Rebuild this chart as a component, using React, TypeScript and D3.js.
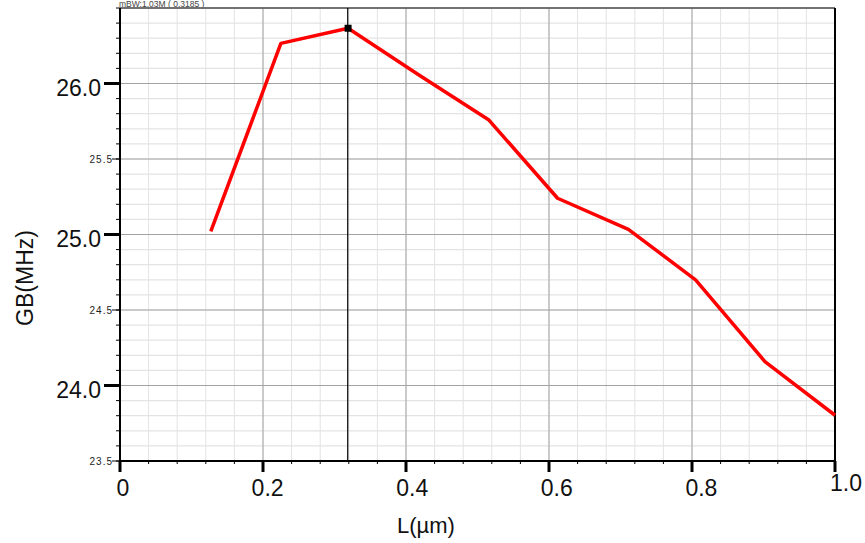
import React, { useRef, useEffect } from "react";
import * as d3 from "d3";

// L sweep (µm) and the gain-bandwidth read at each point
const lengths = [0.127, 0.225, 0.319, 0.417, 0.516, 0.612, 0.711, 0.805, 0.902, 1.0];
const gbValues = [25.02, 26.266, 26.366, 26.06, 25.758, 25.24, 25.034, 24.70, 24.158, 23.803];

const xMajorTicks = [0, 0.2, 0.4, 0.6, 0.8, 1.0];
const yBigTicks = [24.0, 25.0, 26.0];
const ySmallTicks = [23.5, 24.5, 25.5];
const cursorX = 0.3185;
const cursorIndex = 2;
const headerText = "mBW:1.03M ( 0.3185 )";

const W = 865;
const H = 543;
const margin = { top: 8, right: 30, bottom: 82, left: 120 };
const FONT = "'Liberation Sans', Arial, sans-serif";

export default function App() {
  const svgRef = useRef<SVGSVGElement | null>(null);

  useEffect(() => {
    document.body.style.margin = "0";
    const svg = d3.select(svgRef.current);
    svg.selectAll("*").remove();

    const width = W - margin.left - margin.right;
    const height = H - margin.top - margin.bottom;

    const x = d3.scaleLinear().domain([0, 1]).range([0, width]);
    const y = d3.scaleLinear().domain([23.5, 26.5]).range([height, 0]);

    svg.append("rect").attr("width", W).attr("height", H).attr("fill", "#fff");

    // header text squeezed above the frame
    svg.append("text")
      .attr("x", margin.left - 1).attr("y", 7)
      .attr("font-family", FONT).attr("font-size", 8.5).attr("fill", "#444")
      .text(headerText);

    const g = svg.append("g").attr("transform", `translate(${margin.left},${margin.top})`);

    // minor grid
    const xMinor = d3.range(0, 1.0001, 0.04);
    const yMinor = d3.range(23.5, 26.5001, 0.1);
    g.append("g").selectAll("line").data(xMinor).join("line")
      .attr("x1", d => x(d)).attr("x2", d => x(d)).attr("y1", 0).attr("y2", height)
      .attr("stroke", "#e3e3e3").attr("stroke-width", 1);
    g.append("g").selectAll("line").data(yMinor).join("line")
      .attr("x1", 0).attr("x2", width).attr("y1", d => y(d)).attr("y2", d => y(d))
      .attr("stroke", "#e3e3e3").attr("stroke-width", 1.2);

    // major grid
    g.append("g").selectAll("line").data(xMajorTicks).join("line")
      .attr("x1", d => x(d)).attr("x2", d => x(d)).attr("y1", 0).attr("y2", height)
      .attr("stroke", "#a3a3a3").attr("stroke-width", 1);
    g.append("g").selectAll("line").data(d3.range(23.5, 26.5001, 0.5)).join("line")
      .attr("x1", 0).attr("x2", width).attr("y1", d => y(d)).attr("y2", d => y(d))
      .attr("stroke", "#a3a3a3").attr("stroke-width", 1);

    // frame
    g.append("line").attr("x1", 0).attr("x2", width).attr("y1", 0).attr("y2", 0)
      .attr("stroke", "#555").attr("stroke-width", 1.5);
    g.append("line").attr("x1", width).attr("x2", width).attr("y1", 0).attr("y2", height)
      .attr("stroke", "#000").attr("stroke-width", 2);
    g.append("line").attr("x1", 0).attr("x2", 0).attr("y1", 0).attr("y2", height + 1)
      .attr("stroke", "#000").attr("stroke-width", 2);
    g.append("line").attr("x1", -1).attr("x2", width + 1).attr("y1", height).attr("y2", height)
      .attr("stroke", "#000").attr("stroke-width", 2);

    // x ticks
    g.append("g").selectAll("line").data(xMinor).join("line")
      .attr("x1", d => x(d)).attr("x2", d => x(d)).attr("y1", height).attr("y2", height + 3)
      .attr("stroke", "#000").attr("stroke-width", 1);
    g.append("g").selectAll("line").data(xMajorTicks).join("line")
      .attr("x1", d => x(d)).attr("x2", d => x(d)).attr("y1", height).attr("y2", height + 11)
      .attr("stroke", "#000").attr("stroke-width", 3);
    g.append("g").selectAll("text").data(xMajorTicks).join("text")
      .attr("x", d => x(d) + (d === 1 ? 11 : 3 + d * 8))
      .attr("y", d => height + (d === 1 ? 30 : 35))
      .attr("text-anchor", "middle")
      .attr("font-family", FONT).attr("font-size", 23).attr("fill", "#111")
      .text(d => (d === 0 ? "0" : d3.format(".1f")(d)));

    // y ticks
    g.append("g").selectAll("line").data(yMinor).join("line")
      .attr("x1", -4).attr("x2", 0).attr("y1", d => y(d)).attr("y2", d => y(d))
      .attr("stroke", "#000").attr("stroke-width", 1);
    g.append("g").selectAll("line").data(ySmallTicks).join("line")
      .attr("x1", -8).attr("x2", 0).attr("y1", d => y(d)).attr("y2", d => y(d))
      .attr("stroke", "#000").attr("stroke-width", 1);
    g.append("g").selectAll("line").data(yBigTicks).join("line")
      .attr("x1", -16).attr("x2", 0).attr("y1", d => y(d)).attr("y2", d => y(d))
      .attr("stroke", "#000").attr("stroke-width", 3);
    g.append("g").selectAll("text").data(yBigTicks).join("text")
      .attr("x", -19).attr("y", d => y(d) + 12.5)
      .attr("text-anchor", "end")
      .attr("font-family", FONT).attr("font-size", 23).attr("fill", "#111")
      .text(d => d3.format(".1f")(d));
    g.append("g").selectAll("text").data(ySmallTicks).join("text")
      .attr("x", -7).attr("y", d => y(d) + 4)
      .attr("text-anchor", "end").attr("letter-spacing", 1)
      .attr("font-family", FONT).attr("font-size", 10).attr("fill", "#222")
      .text(d => d3.format(".1f")(d));

    // axis titles
    svg.append("text")
      .attr("x", 426).attr("y", 533).attr("text-anchor", "middle")
      .attr("font-family", FONT).attr("font-size", 22).attr("fill", "#111")
      .text("L(µm)");
    svg.append("text")
      .attr("transform", `translate(33,278) rotate(-90)`).attr("text-anchor", "middle")
      .attr("font-family", FONT).attr("font-size", 23).attr("fill", "#111")
      .text("GB(MHz)");

    // cursor
    g.append("line").attr("x1", x(cursorX)).attr("x2", x(cursorX)).attr("y1", 0).attr("y2", height)
      .attr("stroke", "#000").attr("stroke-width", 1.2);

    // curve
    const line = d3.line<number>().x((_, i) => x(lengths[i])).y(d => y(d));
    g.append("path").datum(gbValues).attr("d", line)
      .attr("fill", "none").attr("stroke", "#ff0000").attr("stroke-width", 3.5)
      .attr("stroke-linejoin", "round");

    g.append("rect")
      .attr("x", x(lengths[cursorIndex]) - 3.5).attr("y", y(gbValues[cursorIndex]) - 3.5)
      .attr("width", 7).attr("height", 7).attr("fill", "#000");
  }, []);

  return <svg ref={svgRef} width={W} height={H} style={{ display: "block" }} />;
}
